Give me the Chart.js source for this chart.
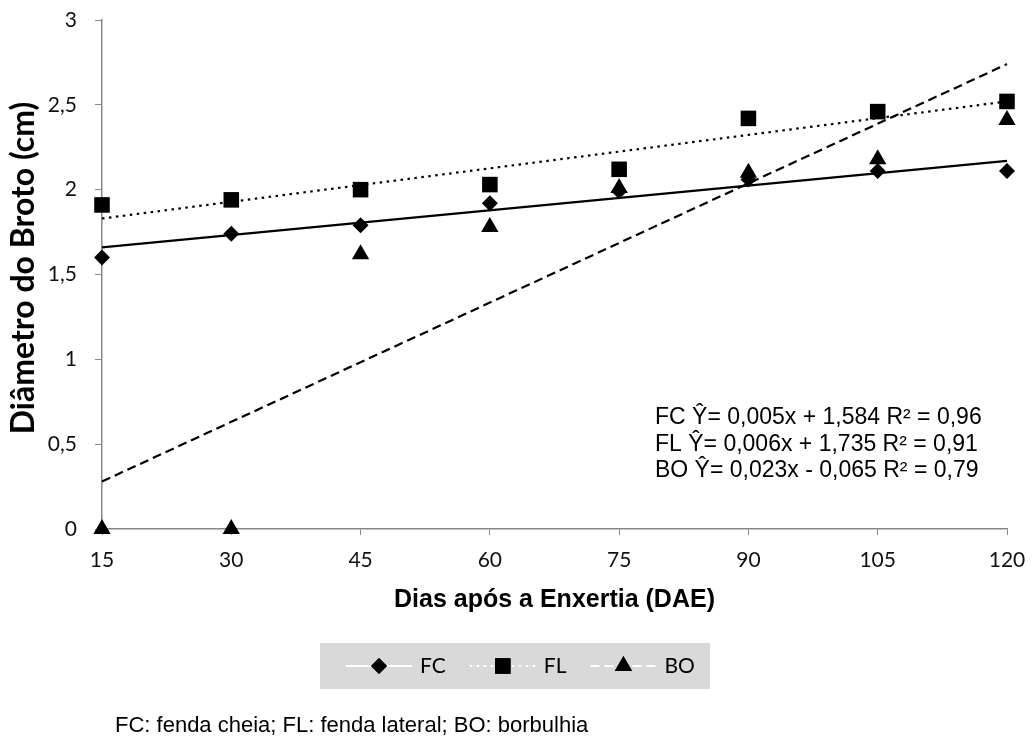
<!DOCTYPE html>
<html><head><meta charset="utf-8">
<script src="https://cdn.jsdelivr.net/npm/chart.js@4"></script>
<style>html,body{margin:0;padding:0;background:#fff;}#wrap{width:1032px;height:738px;position:relative;}</style>
</head><body><div id="wrap"><canvas id="c" width="1032" height="738"></canvas></div>
<script>
// ---- data ----
const days = [15, 30, 45, 60, 75, 90, 105, 120];
const fcValues = [1.60, 1.74, 1.79, 1.92, 1.99, 2.06, 2.11, 2.11];
const flValues = [1.91, 1.94, 2.00, 2.03, 2.12, 2.42, 2.46, 2.52];
const boValues = [0, 0, 1.62, 1.78, 2.01, 2.10, 2.18, 2.41];
const trendX = [15, 120];
const fcTrend = [1.66, 2.17];
const flTrend = [1.83, 2.52];
const boTrend = [0.28, 2.74];
const yTicks = [0, 0.5, 1, 1.5, 2, 2.5, 3];
const xTicks = [15, 30, 45, 60, 75, 90, 105, 120];
const seriesLabels = ['FC', 'FL', 'BO'];
const equations = ['FC Ŷ= 0,005x + 1,584 R² = 0,96', 'FL Ŷ= 0,006x + 1,735 R² = 0,91', 'BO Ŷ= 0,023x - 0,065 R² = 0,79'];
const xTitle = 'Dias após a Enxertia (DAE)';
const yTitle = 'Diâmetro do Broto (cm)';
const footnote = 'FC: fenda cheia; FL: fenda lateral; BO: borbulhia';

const pts = (xs, ys) => xs.map((x, i) => ({x: x, y: ys[i]}));
const styles = [
  {pointStyle: 'rectRot', radius: 8, dash: []},
  {pointStyle: 'rect', radius: 11, dash: [2.5, 4.5]},
  {pointStyle: 'triangle', radius: 10, dash: [9, 5]}
];
const seriesValues = [fcValues, flValues, boValues];
const trends = [fcTrend, flTrend, boTrend];

const datasets = [];
trends.forEach((t, i) => {
  datasets.push({
    type: 'line', label: seriesLabels[i] + ' trend', data: pts(trendX, t),
    borderColor: '#000', borderWidth: 2.2, borderDash: styles[i].dash,
    pointRadius: 0, fill: false, order: 2, isTrend: true, clip: false
  });
});
seriesValues.forEach((v, i) => {
  datasets.push({
    type: 'scatter', label: seriesLabels[i], data: pts(days, v),
    pointStyle: styles[i].pointStyle, pointRadius: styles[i].radius, pointHoverRadius: styles[i].radius,
    backgroundColor: '#000', borderColor: '#000', borderWidth: 0, showLine: false, order: 1,
    legendDash: styles[i].dash, clip: false
  });
});

const extras = {
  id: 'extras',
  afterDraw(chart) {
    const ctx = chart.ctx, ca = chart.chartArea;
    ctx.save();
    // axis titles
    ctx.fillStyle = '#000';
    ctx.font = 'bold 25px "Liberation Sans", Arial, sans-serif';
    ctx.textAlign = 'center'; ctx.textBaseline = 'alphabetic';
    ctx.fillText(xTitle, (ca.left + ca.right) / 2, 607);
    ctx.save();
    ctx.translate(24, 268);
    ctx.rotate(-Math.PI / 2);
    ctx.font = 'bold 32px Lato, "Open Sans", sans-serif';
    ctx.textBaseline = 'middle';
    ctx.fillText(yTitle, 0, 0);
    ctx.restore();
    // equations
    ctx.font = '23px "Liberation Sans", Arial, sans-serif';
    ctx.textAlign = 'left'; ctx.textBaseline = 'middle';
    equations.forEach((e, i) => ctx.fillText(e, 655, 418 + i * 26.5));
    // legend box
    ctx.fillStyle = '#d9d9d9';
    ctx.fillRect(320, 643, 390, 46);
    const ly = 666;
    let x = 346;
    ctx.font = '21px Lato, "Open Sans", sans-serif';
    const scatterSets = chart.data.datasets.filter(d => !d.isTrend);
    scatterSets.forEach((d, i) => {
      ctx.strokeStyle = '#fff'; ctx.lineWidth = 2.2;
      ctx.setLineDash(d.legendDash);
      ctx.beginPath(); ctx.moveTo(x, ly); ctx.lineTo(x + 66, ly); ctx.stroke();
      ctx.setLineDash([]);
      ctx.fillStyle = '#000';
      Chart.helpers.drawPoint(ctx, {pointStyle: d.pointStyle, radius: d.pointRadius, borderWidth: 0, rotation: 0}, x + 33, ly);
      ctx.fill();
      ctx.fillStyle = '#000';
      ctx.textAlign = 'left'; ctx.textBaseline = 'middle';
      ctx.fillText(d.label, x + 74, ly);
      x += 74 + ctx.measureText(d.label).width + 24;
    });
    // footnote
    ctx.font = '22px "Liberation Sans", Arial, sans-serif';
    ctx.fillStyle = '#000';
    ctx.textAlign = 'left'; ctx.textBaseline = 'alphabetic';
    ctx.fillText(footnote, 115, 732);
    ctx.restore();
  }
};

new Chart(document.getElementById('c'), {
  type: 'scatter',
  data: {datasets: datasets},
  options: {
    responsive: false, animation: false, devicePixelRatio: 1,
    layout: {padding: {top: 20, right: 25, bottom: 0, left: 0}},
    plugins: {legend: {display: false}, tooltip: {enabled: false}},
    scales: {
      x: {
        type: 'linear', min: 15, max: 120,
        afterBuildTicks: s => { s.ticks = xTicks.map(v => ({value: v})); },
        afterFit: s => { s.height = 209; s.paddingLeft = 0; s.paddingRight = 0; },
        grid: {display: true, drawOnChartArea: false, drawTicks: true, tickLength: 6, color: '#888', tickColor: '#888'},
        border: {display: true, color: '#888', width: 1.5},
        ticks: {font: {family: 'Lato', size: 21}, color: '#111', padding: 13, maxRotation: 0, autoSkip: false}
      },
      y: {
        min: 0, max: 3,
        afterBuildTicks: s => { s.ticks = yTicks.map(v => ({value: v})); },
        afterFit: s => { s.width = 102; s.paddingTop = 0; s.paddingBottom = 0; },
        grid: {display: true, drawOnChartArea: false, drawTicks: true, tickLength: 7, color: '#888', tickColor: '#888'},
        border: {display: true, color: '#888', width: 1.5},
        ticks: {font: {family: 'Lato', size: 21}, color: '#111', padding: 18,
          callback: v => String(v).replace('.', ',')}
      }
    }
  },
  plugins: [extras]
});
</script></body></html>
